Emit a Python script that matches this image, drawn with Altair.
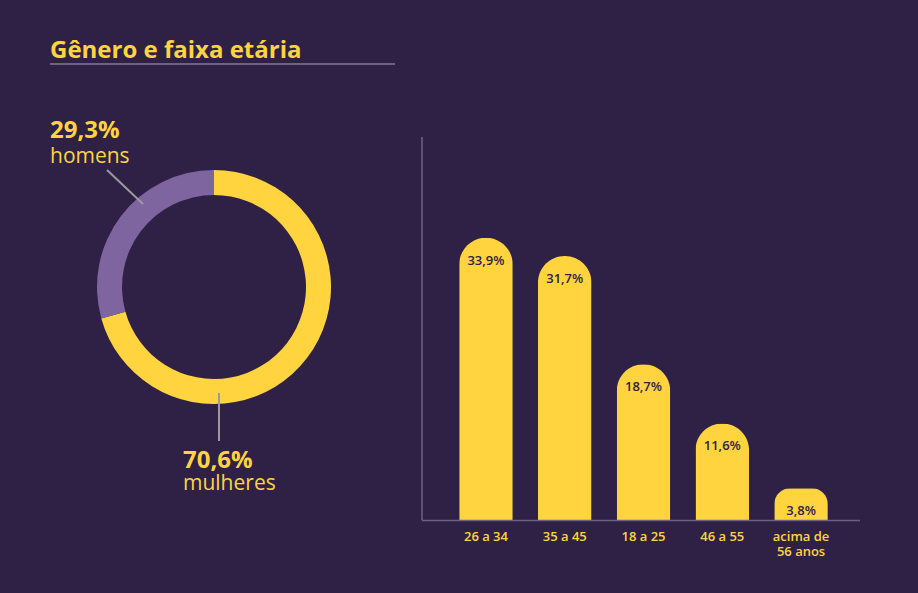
import altair as alt
import pandas as pd

# ---- data ----
gender_labels = ["mulheres", "homens"]
gender_values = [70.6, 29.3]
gender_text = ["70,6%", "29,3%"]

age_groups = ["26 a 34", "35 a 45", "18 a 25", "46 a 55", "acima de\n56 anos"]
age_values = [33.9, 31.7, 18.7, 11.6, 3.8]
age_text = ["33,9%", "31,7%", "18,7%", "11,6%", "3,8%"]

title_text = "Gênero e faixa etária"

# ---- style ----
BG = "#2F2146"
YELLOW = "#FFD43F"
PURPLE = "#7E65A0"
AXIS = "#6E6284"
LEADER = "#9A9A9E"
DARK = "#2F2146"
FONT = "Open Sans"

gender_df = pd.DataFrame({"g": gender_labels, "v": gender_values,
                          "t": gender_text, "o": list(range(len(gender_labels)))})
age_df = pd.DataFrame({"a": age_groups, "v": age_values, "t": age_text})
title_df = pd.DataFrame({"t": [title_text]})

W, H = 918, 593
CX, CY = 214, 287

xs = alt.Scale(domain=age_groups, range=[422, 865], paddingInner=0.32, paddingOuter=0.472)
ys = alt.Scale(domain=[0, 46], range=[520, 137])

donut = alt.Chart(gender_df).mark_arc(innerRadius=92, outerRadius=117).encode(
    theta=alt.Theta("v:Q", stack=True),
    order=alt.Order("o:Q"),
    color=alt.Color("g:N", scale=alt.Scale(domain=gender_labels, range=[YELLOW, PURPLE]), legend=None),
    x=alt.value(CX), y=alt.value(CY),
)

def gtext(name, x, y_pct, y_name):
    base = alt.Chart(gender_df).transform_filter(alt.datum.g == name)
    pct = base.mark_text(font=FONT, fontSize=24, fontWeight="bold", color=YELLOW,
                         align="left", baseline="alphabetic").encode(
        text="t:N", x=alt.value(x), y=alt.value(y_pct))
    nm = base.mark_text(font=FONT, fontSize=21, fontWeight=500, color=YELLOW,
                        align="left", baseline="alphabetic").encode(
        text="g:N", x=alt.value(x), y=alt.value(y_name))
    return pct + nm

homens_txt = gtext("homens", 50, 138, 163)
mulheres_txt = gtext("mulheres", 183, 468, 490)

lead1 = alt.Chart(title_df).mark_rule(color=LEADER, strokeWidth=2).encode(
    x=alt.value(107), y=alt.value(170), x2=alt.value(143), y2=alt.value(204))
lead2 = alt.Chart(title_df).mark_rule(color=LEADER, strokeWidth=2).encode(
    x=alt.value(219), y=alt.value(393), x2=alt.value(219), y2=alt.value(441))

title = alt.Chart(title_df).mark_text(font=FONT, fontSize=24, fontWeight="bold", color=YELLOW,
                                      align="left", baseline="alphabetic").encode(
    text="t:N", x=alt.value(50), y=alt.value(58))
underline = alt.Chart(title_df).mark_rule(color=AXIS, strokeWidth=2).encode(
    x=alt.value(50), x2=alt.value(395), y=alt.value(64))

yaxis = alt.Chart(title_df).mark_rule(color=AXIS, strokeWidth=1.5).encode(
    x=alt.value(422), y=alt.value(137), y2=alt.value(520))

bars = alt.Chart(age_df).mark_bar(color=YELLOW, cornerRadiusTopLeft=27, cornerRadiusTopRight=27).encode(
    x=alt.X("a:N", scale=xs, axis=None, sort=None),
    y=alt.Y("v:Q", scale=ys, axis=None),
)
xaxis = alt.Chart(title_df).mark_rule(color=AXIS, strokeWidth=1.5).encode(
    x=alt.value(422), x2=alt.value(860), y=alt.value(520.5))

bar_labels = alt.Chart(age_df).mark_text(font=FONT, fontSize=13, fontWeight=600, color=DARK,
                                         baseline="middle", dy=23).encode(
    x=alt.X("a:N", scale=xs, axis=None, sort=None),
    y=alt.Y("v:Q", scale=ys, axis=None),
    text="t:N",
)
cat_labels = alt.Chart(age_df).mark_text(font=FONT, fontSize=13, fontWeight=600, color=YELLOW,
                                         baseline="top", lineBreak="\n", lineHeight=15).encode(
    x=alt.X("a:N", scale=xs, axis=None, sort=None),
    y=alt.value(531),
    text="a:N",
)

chart = alt.layer(
    title, underline, donut, lead1, lead2, homens_txt, mulheres_txt,
    yaxis, bars, xaxis, bar_labels, cat_labels,
).properties(
    width=W, height=H, background=BG, padding=0,
    autosize=alt.AutoSizeParams(type="none"),
).configure_view(stroke=None)

chart.save("out.html", embed_options={"renderer": "svg", "actions": False})
